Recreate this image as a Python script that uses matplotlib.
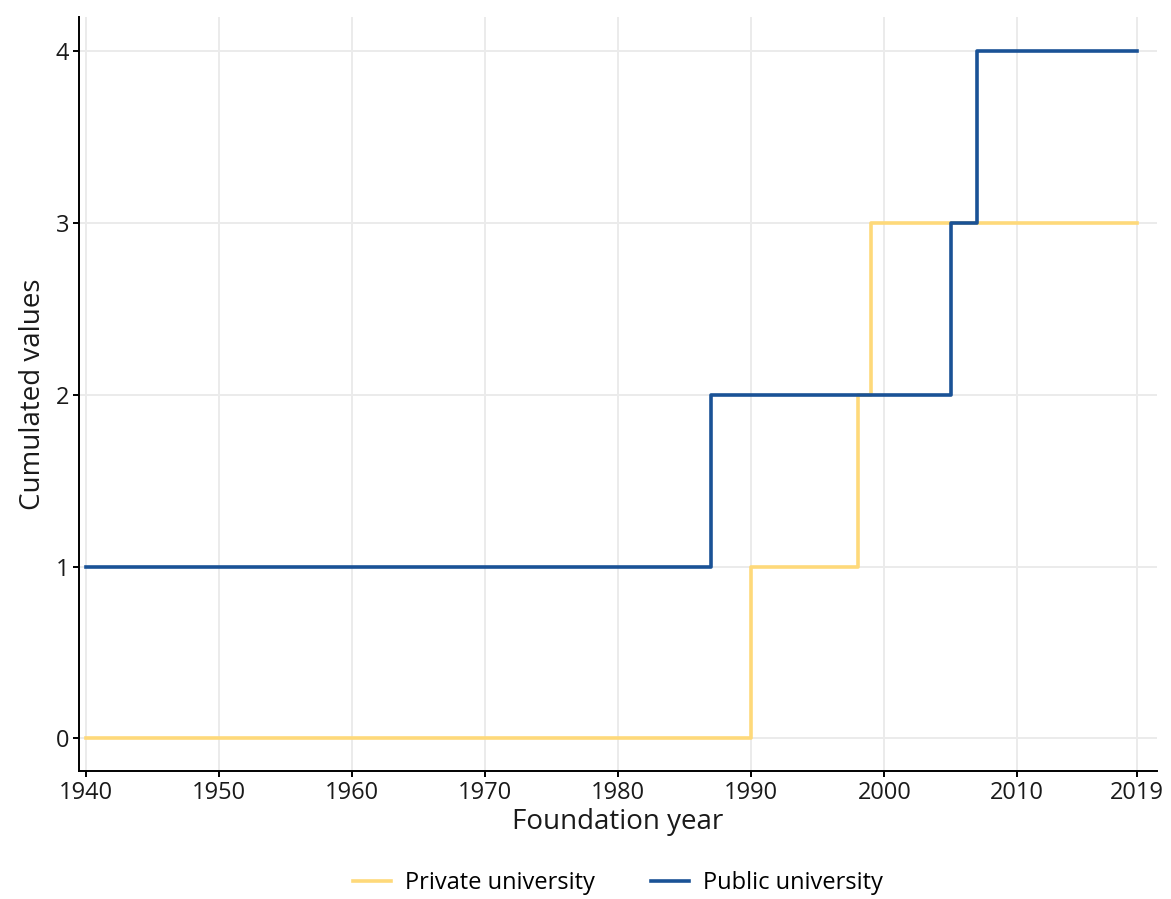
import matplotlib
matplotlib.use("Agg")
import matplotlib.pyplot as plt
from matplotlib.lines import Line2D

plt.rcParams['font.family'] = ['Open Sans', 'DejaVu Sans']

private_years = [1940, 1990, 1998, 1999, 2019]
private_vals = [0, 1, 2, 3, 3]
public_years = [1940, 1987, 2005, 2007, 2019]
public_vals = [1, 2, 3, 4, 4]
xticks = [1940, 1950, 1960, 1970, 1980, 1990, 2000, 2010, 2019]
yticks = [0, 1, 2, 3, 4]

c_priv = '#fed97a'
c_pub = '#1a5296'

fig = plt.figure(figsize=(11.71, 8.99), dpi=100)
ax = fig.add_axes([79/1171, 1-771/899, (1157-79)/1171, (771-17)/899])

ax.step(private_years, private_vals, where='post', color=c_priv, lw=2.6, label='Private university')
ax.step(public_years, public_vals, where='post', color=c_pub, lw=2.6, label='Public university')

ax.set_xlim(1939.45, 2020.5)
ax.set_ylim(-0.19, 4.2)
ax.set_xticks(xticks)
ax.set_yticks(yticks)
ax.grid(True, color='#ebebeb', lw=1.4)
ax.set_axisbelow(True)
for s in ['top', 'right']:
    ax.spines[s].set_visible(False)
for s in ['left', 'bottom']:
    ax.spines[s].set_linewidth(1.4)
    ax.spines[s].set_color('black')
ax.tick_params(axis='both', length=4, width=1.4, color='black', labelsize=17, labelcolor='#1a1a1a', pad=3)
ax.set_xlabel('Foundation year', fontsize=20, color='#1a1a1a', labelpad=2)
ax.set_ylabel('Cumulated values', fontsize=20, color='#1a1a1a', labelpad=6)

handles = [Line2D([0], [0], color=c_priv, lw=2.6), Line2D([0], [0], color=c_pub, lw=2.6)]
fig.legend(handles, ['Private university', 'Public university'], loc='center',
           bbox_to_anchor=(618/1171, 1-883/899), ncol=2, frameon=False, fontsize=17,
           handlelength=1.6, columnspacing=2.4, handletextpad=0.6)

fig.savefig('out.png', dpi=100)
